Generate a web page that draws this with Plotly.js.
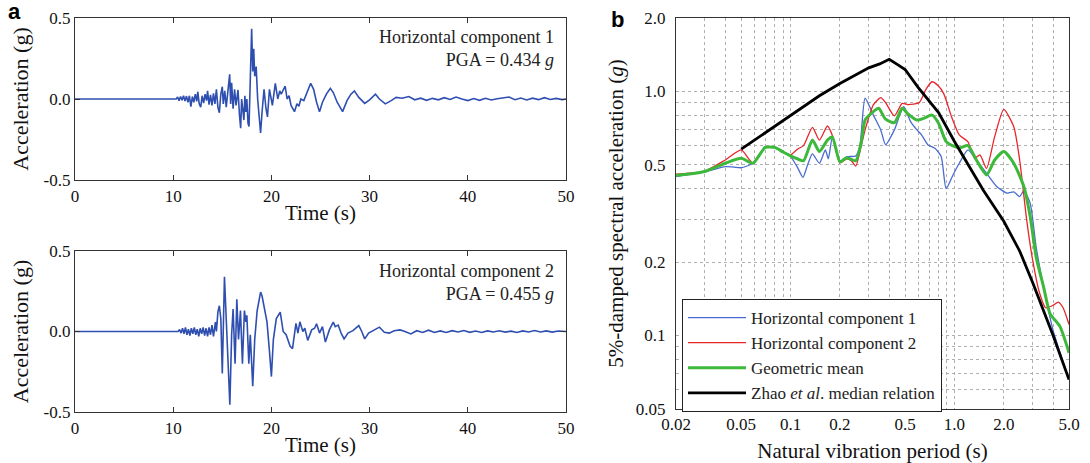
<!DOCTYPE html>
<html>
<head>
<meta charset="utf-8">
<script src="https://cdn.plot.ly/plotly-3.0.1.min.js"></script>
<style>html,body{margin:0;padding:0;background:#fff;}#chart{width:1090px;height:463px;}</style>
</head>
<body>
<div id="chart"></div>
<script>
// ---- Panel a: acceleration time histories ----
const timeH1 = [0,10.3,10.45,10.6,10.75,10.9,11.05,11.2,11.35,11.5,11.65,11.8,11.95,12.1,12.25,12.4,12.5,12.65,12.8,12.95,13.1,13.25,13.4,13.5,13.65,13.8,13.95,14.1,14.25,14.4,14.55,14.7,14.85,15.0,15.1,15.25,15.4,15.55,15.75,15.85,15.95,16.1,16.25,16.4,16.6,16.75,16.87,16.97,17.1,17.2,17.3,17.4,17.5,17.62,17.72,17.99,18.1,18.2,18.3,18.45,18.6,18.9,19.05,19.25,19.45,19.6,19.8,19.95,20.1,20.4,20.65,20.85,21.0,21.4,21.6,21.8,22.0,22.35,22.6,22.8,23.0,23.3,23.6,24.0,24.3,24.6,24.9,25.2,25.6,26.0,26.3,26.7,27.25,27.7,28.1,28.45,28.9,29.5,30.0,30.6,31.0,31.6,32.2,32.7,33.3,34.0,34.6,35.2,35.8,36.4,37.0,37.6,38.2,38.8,39.4,40.0,40.6,41.2,41.8,42.4,43.0,43.6,44.2,44.8,45.4,46.0,46.6,47.2,47.8,48.4,49.0,49.6,50.0];
const accH1 = [0,0,0.012,-0.01,0.015,-0.008,0.02,-0.012,0.018,-0.02,0.02,-0.047,0.015,-0.02,0.03,-0.015,0.045,-0.03,-0.05,0.02,-0.025,0.03,-0.01,0.05,-0.035,0.025,-0.04,0.035,-0.03,0.06,-0.05,-0.085,0.03,0.076,-0.03,0.05,-0.05,0.06,0.152,-0.03,0.1,-0.06,0.06,-0.04,0.056,-0.1,-0.18,0.0,-0.06,-0.13,0.02,-0.08,0.0,-0.15,-0.17,0.434,0.17,0.31,0.14,0.2,0.0,-0.21,-0.08,0.06,-0.06,-0.11,0.06,0.0,-0.04,0.097,0.0,0.05,0.03,0.08,0.0,0.02,-0.04,-0.078,-0.03,-0.045,0.0,-0.01,0.04,0.097,0.06,-0.02,-0.078,-0.02,0.03,0.066,0.04,-0.02,-0.078,-0.01,0.03,0.05,0.01,-0.027,-0.005,0.03,0.0,-0.03,-0.01,0.01,0.005,0.015,-0.005,0.005,-0.008,0.004,-0.005,0.008,-0.003,0.012,0.0,-0.01,0.003,-0.008,0.004,-0.006,0.002,0.008,0.012,-0.004,0.006,-0.006,0.005,-0.004,0.008,-0.003,0.004,-0.004,0.0];

const timeH2 = [0,10.5,10.65,10.8,10.95,11.1,11.25,11.4,11.55,11.7,11.85,12.0,12.15,12.3,12.45,12.6,12.75,12.9,13.05,13.2,13.35,13.5,13.65,13.8,13.95,14.1,14.3,14.4,14.55,14.7,14.85,15.0,15.22,15.4,15.5,15.77,15.95,16.1,16.3,16.48,16.65,16.85,17.05,17.25,17.4,17.5,17.7,17.85,18.1,18.3,18.55,18.75,18.9,19.05,19.3,19.55,19.8,20.0,20.2,20.5,20.9,21.2,21.5,21.9,22.15,22.5,22.7,22.9,23.2,23.4,23.7,24.1,24.4,24.6,24.9,25.2,25.5,25.9,26.3,26.5,26.8,27.1,27.4,27.8,28.3,28.9,29.2,29.5,29.9,30.3,31.0,31.5,32.0,32.5,33.1,33.6,34.2,34.8,35.4,36.0,36.6,37.2,37.8,38.4,39.0,39.6,40.2,40.8,41.4,42.0,42.6,43.2,43.8,44.4,45.0,45.6,46.2,46.8,47.4,48.0,48.6,49.2,50.0];
const accH2 = [0,0,0.012,-0.01,0.02,-0.015,0.025,-0.02,0.015,-0.025,0.02,-0.015,0.025,-0.02,0.015,-0.03,0.02,-0.015,0.025,-0.025,0.02,-0.03,0.025,-0.02,0.04,-0.03,0.058,0.0,0.12,0.16,0.08,-0.26,0.34,0.05,-0.1,-0.455,-0.02,0.14,-0.2,0.2,-0.05,0.13,-0.2,0.13,0.06,0.1,-0.2,-0.02,-0.34,-0.05,0.13,0.2,0.245,0.22,0.15,0.06,-0.12,-0.28,-0.05,0.08,0.12,0.0,-0.02,-0.09,-0.107,0.05,-0.01,0.06,0.0,0.02,-0.055,0.01,0.02,0.048,-0.01,0.03,-0.066,0.01,0.058,0.03,0.04,-0.01,-0.046,-0.01,0.005,0.037,0.0,-0.046,-0.01,0.005,0.027,-0.005,-0.01,0.005,0.01,0.0,-0.015,0.005,-0.006,0.008,-0.006,0.004,-0.006,0.005,-0.003,0.006,-0.005,0.003,-0.006,0.004,-0.003,0.005,-0.004,0.002,-0.006,0.004,-0.003,0.006,-0.003,0.004,-0.004,0.003,0.0];

// ---- Panel b: response spectra ----
const periodH1 = [0.02,0.03,0.04,0.045,0.05,0.059,0.07,0.08,0.09,0.1,0.11,0.119,0.127,0.136,0.15,0.163,0.17,0.18,0.2,0.22,0.25,0.265,0.285,0.32,0.355,0.38,0.43,0.49,0.54,0.59,0.63,0.69,0.76,0.83,0.89,0.98,1.07,1.21,1.36,1.57,1.81,2.1,2.3,2.5,2.65,2.9,3.15,3.5,4.0,5.0];
const saH1 = [0.448,0.469,0.492,0.49,0.487,0.508,0.59,0.59,0.565,0.541,0.49,0.445,0.5,0.555,0.508,0.576,0.53,0.65,0.515,0.54,0.544,0.6,0.938,0.8,0.696,0.605,0.696,0.866,0.752,0.696,0.664,0.604,0.585,0.541,0.40,0.455,0.508,0.576,0.524,0.462,0.408,0.383,0.388,0.371,0.392,0.348,0.231,0.158,0.105,0.066];

const periodH2 = [0.02,0.03,0.04,0.05,0.059,0.07,0.08,0.09,0.1,0.11,0.12,0.136,0.15,0.168,0.18,0.2,0.22,0.235,0.25,0.27,0.285,0.32,0.355,0.38,0.43,0.48,0.52,0.61,0.67,0.73,0.79,0.86,0.96,1.07,1.21,1.33,1.43,1.57,1.76,2.0,2.3,2.5,2.76,3.0,3.3,3.6,4.0,4.3,4.6,5.0];
const saH2 = [0.458,0.472,0.524,0.576,0.508,0.59,0.59,0.565,0.55,0.58,0.6,0.713,0.632,0.722,0.66,0.51,0.53,0.52,0.495,0.6,0.696,0.881,0.944,0.9,0.794,0.894,0.884,0.9,1.02,1.096,1.06,0.98,0.788,0.664,0.622,0.532,0.55,0.484,0.653,0.845,0.718,0.524,0.297,0.204,0.15,0.13,0.133,0.137,0.13,0.111];

const periodGM = [0.02,0.03,0.04,0.05,0.059,0.07,0.08,0.09,0.1,0.11,0.12,0.136,0.15,0.168,0.18,0.2,0.22,0.25,0.27,0.285,0.32,0.345,0.38,0.43,0.48,0.52,0.59,0.65,0.73,0.8,0.89,0.98,1.07,1.21,1.36,1.57,1.76,2.0,2.3,2.65,2.9,3.15,3.5,3.83,4.4,5.0];
const saGM = [0.453,0.47,0.508,0.532,0.508,0.59,0.59,0.565,0.545,0.53,0.52,0.632,0.567,0.632,0.65,0.515,0.535,0.52,0.62,0.764,0.827,0.853,0.77,0.745,0.853,0.81,0.764,0.776,0.80,0.741,0.623,0.598,0.587,0.6,0.524,0.455,0.524,0.567,0.508,0.408,0.307,0.21,0.158,0.123,0.109,0.085];

const periodZhao = [0.05,0.1,0.15,0.2,0.25,0.3,0.35,0.4,0.45,0.5,0.6,0.7,0.8,1.0,1.25,1.5,2.0,2.5,3.0,4.0,5.0];
const saZhao = [0.58,0.80,0.96,1.078,1.17,1.25,1.297,1.355,1.288,1.23,1.04,0.914,0.82,0.624,0.482,0.394,0.294,0.222,0.165,0.10,0.066];

// ---- tick labels ----
const timeTicks = [0,10,20,30,40,50];
const accTicks = [-0.5,0.0,0.5];
const accTickText = ['-0.5','0.0','0.5'];
const periodGrid = [0.02,0.03,0.04,0.05,0.06,0.07,0.08,0.09,0.1,0.2,0.3,0.4,0.5,0.6,0.7,0.8,0.9,1,2,3,4,5];
const periodText = ['0.02','','','0.05','','','','','0.1','0.2','','','0.5','','','','','1.0','2.0','','','5.0'];
const saGrid = [0.05,0.06,0.07,0.08,0.09,0.1,0.2,0.3,0.4,0.5,0.6,0.7,0.8,0.9,1,2];
const saText = ['0.05','','','','','0.1','0.2','','','0.5','','','','','1.0','2.0'];

const W = 1090, H = 463;
const px = v => v / W;
const py = v => 1 - v / H;
const serif = 'Liberation Serif, Times New Roman, serif';
const sans = 'Liberation Sans, Arial, sans-serif';

const tsColor = '#2f4fb0';
const traces = [
  {x: timeH1, y: accH1, xaxis: 'x', yaxis: 'y', mode: 'lines', line: {color: tsColor, width: 1.6}, showlegend: false},
  {x: timeH2, y: accH2, xaxis: 'x2', yaxis: 'y2', mode: 'lines', line: {color: tsColor, width: 1.6}, showlegend: false},
  {x: periodH1, y: saH1, xaxis: 'x3', yaxis: 'y3', mode: 'lines', name: 'Horizontal component 1', line: {color: '#4a6cd0', width: 1.3, shape: 'spline', smoothing: 0.6}},
  {x: periodH2, y: saH2, xaxis: 'x3', yaxis: 'y3', mode: 'lines', name: 'Horizontal component 2', line: {color: '#e8262a', width: 1.3, shape: 'spline', smoothing: 0.6}},
  {x: periodGM, y: saGM, xaxis: 'x3', yaxis: 'y3', mode: 'lines', name: 'Geometric mean', line: {color: '#3cb83a', width: 3, shape: 'spline', smoothing: 0.6}},
  {x: periodZhao, y: saZhao, xaxis: 'x3', yaxis: 'y3', mode: 'lines', name: 'Zhao <i>et al</i>. median relation', line: {color: '#000000', width: 2.8}}
];

const tickFont = {family: serif, size: 17, color: '#111'};
const titleFont = {family: serif, size: 21, color: '#111'};

function timeAxis() {
  return {
    domain: [px(75), px(566)], range: [0, 50], tickvals: timeTicks,
    ticks: 'inside', ticklen: 5, tickcolor: '#333', showline: true, mirror: 'ticks', linecolor: '#333', linewidth: 1.2,
    showgrid: false, zeroline: false, tickfont: tickFont,
    title: {text: 'Time (s)', font: titleFont, standoff: 0}
  };
}
function accAxis(yTop, yBot) {
  return {
    domain: [py(yBot), py(yTop)], range: [-0.5, 0.5], tickvals: accTicks, ticktext: accTickText,
    ticks: 'inside', ticklen: 5, tickcolor: '#333', showline: true, mirror: 'ticks', linecolor: '#333', linewidth: 1.2,
    showgrid: false, zeroline: false, tickfont: tickFont,
    title: {text: 'Acceleration (g)', font: {family: serif, size: 22, color: '#111'}, standoff: 8}
  };
}

const layout = {
  width: W, height: H,
  margin: {l: 0, r: 0, t: 0, b: 0},
  paper_bgcolor: '#fff', plot_bgcolor: '#fff',
  font: {family: serif, color: '#111'},
  xaxis: Object.assign(timeAxis(), {anchor: 'y'}),
  yaxis: Object.assign(accAxis(18, 180), {anchor: 'x'}),
  xaxis2: Object.assign(timeAxis(), {anchor: 'y2'}),
  yaxis2: Object.assign(accAxis(251, 412), {anchor: 'x2'}),
  xaxis3: {
    anchor: 'y3', domain: [px(676), px(1069)], type: 'log',
    range: [Math.log10(0.02), Math.log10(5)], tickmode: 'array', tickvals: periodGrid, ticktext: periodText,
    showgrid: true, gridcolor: '#b0b0b0', griddash: '3px,3px', gridwidth: 1,
    showline: true, mirror: true, linecolor: '#333', linewidth: 1.2, zeroline: false, ticks: '',
    tickfont: tickFont, ticklabelstandoff: -1,
    title: {text: 'Natural vibration period (s)', font: titleFont, standoff: 12}
  },
  yaxis3: {
    anchor: 'x3', domain: [py(409), py(18)], type: 'log',
    range: [Math.log10(0.05), Math.log10(2)], tickmode: 'array', tickvals: saGrid, ticktext: saText,
    showgrid: true, gridcolor: '#b0b0b0', griddash: '3px,3px', gridwidth: 1,
    showline: true, mirror: true, linecolor: '#333', linewidth: 1.2, zeroline: false, ticks: '',
    tickfont: tickFont, ticklabelstandoff: 6,
    title: {text: '5%-damped spectral acceleration (<i>g</i>)', font: titleFont, standoff: 6}
  },
  legend: {
    x: px(682), y: py(299), xanchor: 'left', yanchor: 'top',
    bgcolor: '#fff', bordercolor: '#222', borderwidth: 1, itemwidth: 58,
    font: {family: serif, size: 17, color: '#222'}, tracegroupgap: 0
  },
  annotations: [
    {text: '<b>a</b>', x: px(14), y: py(11), xref: 'paper', yref: 'paper', xanchor: 'center', yanchor: 'middle', showarrow: false, font: {family: sans, size: 22, color: '#000'}},
    {text: '<b>b</b>', x: px(617), y: py(19), xref: 'paper', yref: 'paper', xanchor: 'center', yanchor: 'middle', showarrow: false, font: {family: sans, size: 22, color: '#000'}},
    {text: 'Horizontal component 1<br>PGA = 0.434 <i>g</i>', x: px(556), y: py(25), xref: 'paper', yref: 'paper', xanchor: 'right', yanchor: 'top', align: 'right', showarrow: false, font: {family: serif, size: 18, color: '#222'}},
    {text: 'Horizontal component 2<br>PGA = 0.455 <i>g</i>', x: px(556), y: py(259), xref: 'paper', yref: 'paper', xanchor: 'right', yanchor: 'top', align: 'right', showarrow: false, font: {family: serif, size: 18, color: '#222'}}
  ]
};

Plotly.newPlot('chart', traces, layout, {displayModeBar: false, staticPlot: true});
</script>
</body>
</html>
